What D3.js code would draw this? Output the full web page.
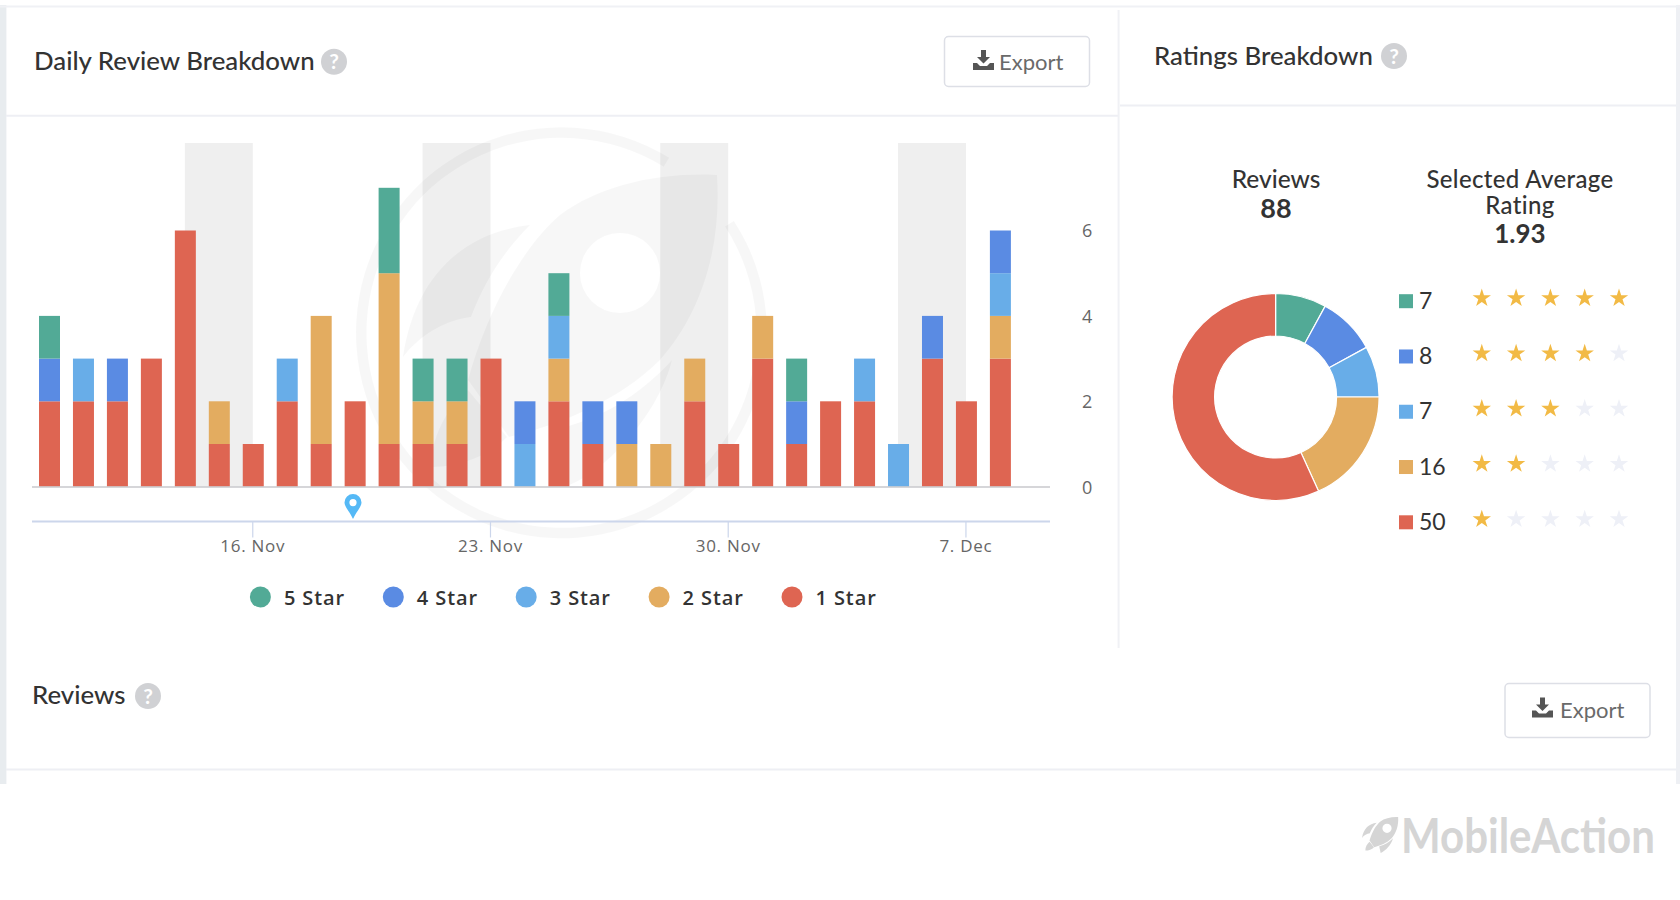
<!DOCTYPE html>
<html><head><meta charset="utf-8">
<script src="https://cdn.jsdelivr.net/npm/d3@7"></script>
<style>html,body{margin:0;padding:0;background:#fff}svg{display:block}text{font-family:Lato,"Open Sans",sans-serif}</style>
</head><body><svg id="c" width="1680" height="900"></svg>
<script>
const days=["2019-11-10","2019-11-11","2019-11-12","2019-11-13","2019-11-14","2019-11-15","2019-11-16","2019-11-17","2019-11-18","2019-11-19","2019-11-20","2019-11-21","2019-11-22","2019-11-23","2019-11-24","2019-11-25","2019-11-26","2019-11-27","2019-11-28","2019-11-29","2019-11-30","2019-12-01","2019-12-02","2019-12-03","2019-12-04","2019-12-05","2019-12-06","2019-12-07","2019-12-08"];
const star1=[2,2,2,3,6,1,1,2,1,2,1,1,1,3,0,2,1,0,0,2,1,3,1,2,2,0,3,2,3];
const star2=[0,0,0,0,0,1,0,0,3,0,4,1,1,0,0,1,0,1,1,1,0,1,0,0,0,0,0,0,1];
const star3=[0,1,0,0,0,0,0,1,0,0,0,0,0,0,1,1,0,0,0,0,0,0,0,0,1,1,0,0,1];
const star4=[1,0,1,0,0,0,0,0,0,0,0,0,0,0,1,0,1,1,0,0,0,0,1,0,0,0,1,0,1];
const star5=[1,0,0,0,0,0,0,0,0,0,2,1,1,0,0,1,0,0,0,0,0,0,1,0,0,0,0,0,0];
const bandStarts=["2019-11-14","2019-11-21","2019-11-28","2019-12-05"];
const bandEnds=["2019-11-16","2019-11-23","2019-11-30","2019-12-07"];
const dateTicks=["2019-11-16","2019-11-23","2019-11-30","2019-12-07"];
const valueTicks=[0,2,4,6];
const legendNames=["5 Star","4 Star","3 Star","2 Star","1 Star"];
const starColors=["#52AA96","#5A8BE3","#68ADE8","#E3AC60","#DE6552"];
const ratingCounts=[7,8,7,16,50];
const ratingStars=[5,4,3,2,1];
const totalReviews="88", avgRating="1.93";

const svg=d3.select("#c");
const parse=d3.utcParse("%Y-%m-%d");
const x=d3.scaleUtc().domain([parse(days[0]),parse(days[days.length-1])]).range([49.5,1000.4]);
const y=d3.scaleLinear().domain([0,7]).range([486.7,187.8]);
const ln=(a,b,c,d,col,w)=>svg.append("line").attr("x1",a).attr("y1",b).attr("x2",c).attr("y2",d).attr("stroke",col).attr("stroke-width",w||1.5);
const txt=(s,a,b,size,opt={})=>svg.append("text").text(s).attr("x",a).attr("y",b).attr("font-size",size)
  .attr("fill",opt.fill||"#333").attr("text-anchor",opt.anchor||"start").attr("font-weight",opt.weight||400)
  .style("letter-spacing",opt.ls||null).style("font-family",opt.font||null);

// page frame
svg.append("rect").attr("x",0).attr("y",5).attr("width",6.4).attr("height",779).attr("fill","#e8ecef");
svg.append("rect").attr("x",1676).attr("y",5).attr("width",4).attr("height",779).attr("fill","#eef0f4");
ln(0,6.5,1680,6.5,"#f0f1f5",2);
ln(6,115.7,1118,115.7,"#eeeff4",2);
ln(1120,105.4,1676,105.4,"#eeeff4",2);
ln(1118.6,10,1118.6,648,"#f0f1f5",2);
ln(6,769.5,1676,769.5,"#eeeff4",2);

// help icons & titles
function help(cx,cy){
  svg.append("circle").attr("cx",cx).attr("cy",cy).attr("r",13).attr("fill","#d0d1d4");
  txt("?",cx,cy+7.5,21,{fill:"#fff",anchor:"middle",weight:700});
}
const TITLE={fill:"#333",weight:500};
txt("Daily Review Breakdown",34,70,25.8,TITLE);help(334,61.7);
txt("Ratings Breakdown",1154,65,25.8,TITLE);help(1394,56);
txt("Reviews",32,703.5,25.8,TITLE);help(148,696);

// export buttons
function exportBtn(bx,by,bw,bh,ix,iy,tx,ty){
  svg.append("rect").attr("x",bx).attr("y",by).attr("width",bw).attr("height",bh).attr("rx",4).attr("fill","#fff").attr("stroke","#dddfe6").attr("stroke-width",1.5);
  svg.append("path").attr("transform",`translate(${ix},${iy})`).attr("fill","#555")
   .attr("d","M8 0h5v7h4l-6.5 6.5L4 7h4zM0 13h4l3 3h7l3-3h4v7H0z");
  txt("Export",tx,ty,22,{fill:"#6a6a6a"});
}
exportBtn(944.5,36.5,145,50,973,50,999,70);
exportBtn(1505,683.5,145,54,1532,697.5,1560,718);

// plot bands
svg.append("g").selectAll("rect").data(bandStarts).join("rect")
  .attr("x",d=>x(parse(d))-0.5).attr("y",143)
  .attr("width",(d,i)=>x(parse(bandEnds[i]))-x(parse(d))).attr("height",y(0)-143).attr("fill","#efefef");

// watermark
const ROCKET=[
 "M717 175C660 172 600 185 560 215C530 240 490 300 468 380L509 437C560 425 620 400 660 360C700 315 722 250 717 175ZM620 233A40 40 0 1 0 620 313A40 40 0 1 0 620 233Z",
 "M530 225C465 232 415 275 403 357C420 335 445 320 471 317C485 280 505 250 530 225Z",
 "M468 390L507 437C490 455 460 467 432 467C430 440 445 410 468 390Z",
 "M672 360C660 410 610 470 565 487C560 465 555 445 553 430C600 420 640 395 672 360Z"];
const wm=svg.append("g").attr("fill","rgba(0,0,0,0.033)");
ROCKET.forEach(p=>wm.append("path").attr("d",p).attr("fill-rule","evenodd"));
wm.append("path").attr("transform","translate(561.5,332.8)")
  .attr("d",d3.arc()({innerRadius:195,outerRadius:205.5,startAngle:57*Math.PI/180,endAngle:(360+31.6)*Math.PI/180}));

// stacked bars
const keys=["star1","star2","star3","star4","star5"];
const table=days.map((d,i)=>({date:parse(d),star1:star1[i],star2:star2[i],star3:star3[i],star4:star4[i],star5:star5[i]}));
const color=d3.scaleOrdinal().domain(["star5","star4","star3","star2","star1"]).range(starColors);
const stacked=d3.stack().keys(keys)(table);
svg.append("g").selectAll("g").data(stacked).join("g").attr("fill",s=>color(s.key))
  .selectAll("rect").data(s=>s.filter(v=>v[1]>v[0])).join("rect")
  .attr("x",v=>x(v.data.date)-10.5).attr("width",21)
  .attr("y",v=>y(v[1])).attr("height",v=>y(v[0])-y(v[1]));

// axes
ln(32,487,1050,487,"#c8c9cc",1.5);
const xa=svg.append("g").attr("transform","translate(-1,521.5)")
  .call(d3.axisBottom(x).tickValues(dateTicks.map(parse)).tickFormat(d3.utcFormat("%-d. %b")).tickSize(16).tickPadding(0));
xa.select(".domain").remove();
xa.selectAll("line").attr("stroke","#ccd6eb").attr("stroke-width",1.2);
xa.selectAll("text").attr("y",18).attr("font-size",17).attr("fill","#666").style("font-family","'Open Sans'").style("letter-spacing","0.75px");
ln(32,521.5,1050,521.5,"#ccd6eb",2);
const ya=svg.append("g").attr("transform","translate(1082,0.6)")
  .call(d3.axisRight(y).tickValues(valueTicks).tickFormat(d3.format("d")).tickSize(0).tickPadding(0));
ya.select(".domain").remove();
ya.selectAll("text").attr("font-size",18).attr("fill","#666").style("font-family","'Open Sans'");

// flag pin
svg.append("path").attr("fill","#55B9F6").attr("fill-rule","evenodd").attr("transform","translate(353,494)")
 .attr("d","M0 25C-3 18 -8.5 13 -8.5 8.5A8.5 8.5 0 0 1 8.5 8.5C8.5 13 3 18 0 25ZM0 5A3.6 3.6 0 1 0 0 12.2A3.6 3.6 0 1 0 0 5Z");

// legend
const legendX=d3.scalePoint().domain(legendNames).range([260.4,792]);
const lg=svg.append("g").selectAll("g").data(legendNames).join("g").attr("transform",d=>`translate(${legendX(d)},597)`);
lg.append("circle").attr("r",10.5).attr("fill",(d,i)=>starColors[i]);
lg.append("text").text(d=>d).attr("x",23.5).attr("y",7.5).attr("font-size",20).attr("fill","#333").attr("font-weight",600).style("font-family","'Open Sans'").style("letter-spacing","0.9px");

// summary headers
txt("Reviews",1276,188,24.5,{anchor:"middle",weight:500});
txt(totalReviews,1276,218,27,{anchor:"middle",weight:700});
txt("Selected Average",1520,187.5,24,{anchor:"middle",weight:500,ls:"0.35px"});
txt("Rating",1520,214,24,{anchor:"middle",weight:500,ls:"0.35px"});
txt(avgRating,1520,243,26,{anchor:"middle",weight:700});

// donut
const pie=d3.pie().sort(null).value(d=>d);
const arc=d3.arc().innerRadius(61).outerRadius(103.5);
svg.append("g").attr("transform","translate(1275.6,397)").selectAll("path").data(pie(ratingCounts)).join("path")
  .attr("d",arc).attr("fill",(d,i)=>starColors[i]).attr("stroke","#fff").attr("stroke-width",1.2);

// rating legend
const rowY=d3.scalePoint().domain(ratingStars).range([301.2,522.3]);
const row=svg.append("g").selectAll("g").data(ratingCounts).join("g").attr("transform",(d,i)=>`translate(0,${rowY(ratingStars[i])})`);
row.append("rect").attr("x",1399).attr("y",-7).attr("width",14).attr("height",14).attr("fill",(d,i)=>starColors[i]);
row.append("text").text(d=>d).attr("x",1419).attr("y",7.5).attr("font-size",23).attr("fill","#333");
const starX=d3.scalePoint().domain([1,2,3,4,5]).range([1481.8,1619]);
const star=d3.symbol().type(d3.symbolStar).size(105)();
row.each(function(d,i){
  d3.select(this).selectAll("path").data([1,2,3,4,5]).join("path").attr("d",star)
    .attr("transform",s=>`translate(${starX(s)},-3)`)
    .attr("fill",s=>s<=ratingStars[i]?"#F2BA45":"#EEF0F7");
});

// brand
const logo=svg.append("g").attr("transform","translate(1315.7,796.9) scale(0.115)").attr("fill","#d5d5d5");
ROCKET.forEach(p=>logo.append("path").attr("d",p).attr("fill-rule","evenodd"));
const brand=svg.append("text").text("MobileAction").attr("font-size",48).attr("font-weight",700).attr("fill","#d5d5d5");
const brandW=brand.node().getComputedTextLength();
brand.attr("transform",`translate(1401,853) scale(${254/brandW},1)`);
</script></body></html>
